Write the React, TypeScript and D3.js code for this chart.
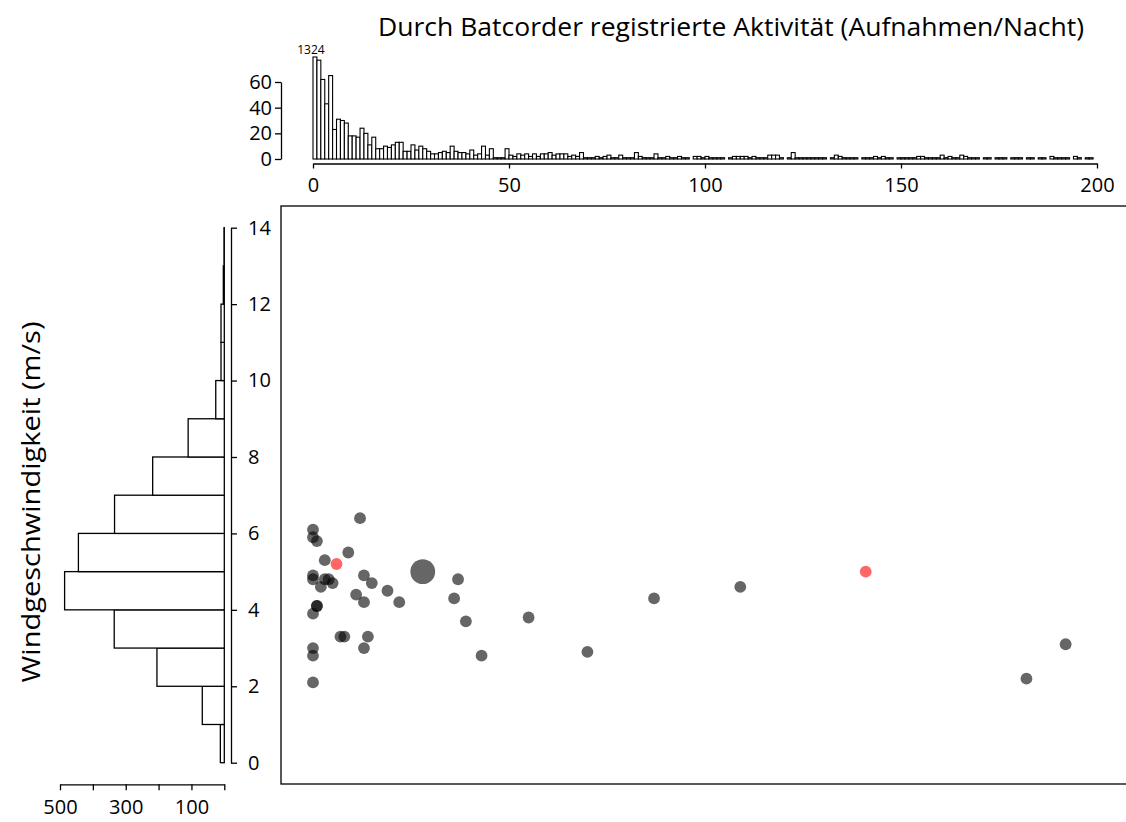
import * as d3 from "d3";
import { useEffect, useRef } from "react";

// recordings per night, 1-wide bins from 0 to 200
const countsA = [1324, 77, 62, 43, 65, 23, 31, 30, 28, 18, 18, 17, 24, 20, 11, 17, 8, 8, 10, 9, 11, 13, 13, 6, 6, 11, 7, 10, 8, 6, 4, 4, 5, 6, 5, 10, 6, 5, 5, 4, 7, 3, 4, 10, 3, 8, 1, 1, 1, 8];
const countsB = [3, 2, 4, 3, 4, 2, 4, 2, 4, 4, 5, 3, 4, 4, 4, 2, 3, 2, 5, 1, 1, 1, 2, 1, 2, 3, 1, 1, 3, 1, 1, 1, 5, 2, 1, 1, 1, 4, 1, 1, 2, 1, 1, 2, 1, 1, 0, 2, 2, 1];
const countsC = [2, 1, 1, 1, 1, 0, 1, 2, 2, 2, 2, 1, 2, 1, 1, 1, 3, 3, 3, 1, 0, 1, 5, 1, 1, 1, 1, 1, 1, 1, 1, 0, 1, 3, 2, 1, 1, 1, 1, 0, 1, 1, 1, 2, 1, 2, 1, 1, 0, 1];
const countsD = [1, 1, 1, 1, 2, 2, 1, 1, 1, 1, 3, 1, 2, 1, 1, 3, 2, 1, 1, 1, 0, 1, 1, 0, 1, 1, 1, 0, 1, 1, 1, 0, 1, 1, 0, 1, 1, 0, 2, 1, 1, 1, 1, 0, 2, 1, 0, 1, 1, 0];
const activityCounts = [...countsA, ...countsB, ...countsC, ...countsD];

// wind speed histogram, 1 m/s bins
const windBinStart = [0, 1, 2, 3, 4, 5, 6, 7, 8, 9, 10, 11, 12, 13];
const windCounts = [12, 67, 205, 335, 486, 444, 334, 218, 110, 26, 10, 10, 3, 1];

// scatter: activity vs wind speed
const nightActivity = [12, 0, 0, 1, 9, 3, 0, 0, 3, 4, 5, 2, 13, 15, 19, 37, 11, 13, 22, 36, 39, 1, 1, 0, 7, 8, 14, 13, 0, 0, 43, 0, 55, 70, 87, 109, 182, 192, 28, 6, 141];
const nightWind = [6.4, 6.1, 5.9, 5.8, 5.5, 5.3, 4.9, 4.8, 4.8, 4.8, 4.7, 4.6, 4.9, 4.7, 4.5, 4.8, 4.4, 4.2, 4.2, 4.3, 3.7, 4.1, 4.1, 3.9, 3.3, 3.3, 3.3, 3.0, 3.0, 2.8, 2.8, 2.1, 3.8, 2.9, 4.3, 4.6, 2.2, 3.1, 5.0, 5.2, 5.0];
const nightSize = [1, 1, 1, 1, 1, 1, 1, 1, 1, 1, 1, 1, 1, 1, 1, 1, 1, 1, 1, 1, 1, 1, 1, 1, 1, 1, 1, 1, 1, 1, 1, 1, 1, 1, 1, 1, 1, 1, 2.1, 1, 1];
const nightMarked = [0, 0, 0, 0, 0, 0, 0, 0, 0, 0, 0, 0, 0, 0, 0, 0, 0, 0, 0, 0, 0, 0, 0, 0, 0, 0, 0, 0, 0, 0, 0, 0, 0, 0, 0, 0, 0, 0, 0, 1, 1];

const topXTicks = [0, 50, 100, 150, 200];
const topYTicks = [0, 20, 40, 60];
const windTicks = [0, 2, 4, 6, 8, 10, 12, 14];
const leftTicks = [0, 100, 200, 300, 400, 500];
const leftLabels = [100, 300, 500];

const FONT = "'Open Sans', sans-serif";

const App = () => {
  const ref = useRef<SVGSVGElement>(null);

  useEffect(() => {
    document.body.style.margin = "0";
    if (ref && ref.current) ref.current.innerHTML = "";

    const width = 1126;
    const height = 822;

    const svg = d3.select(ref.current)
      .attr("width", width)
      .attr("height", height)
      .style("display", "block")
      .style("font-family", FONT);

    // scales
    const x = d3.scaleLinear().domain([0, 200]).range([313, 1097]);
    const yTop = d3.scaleLinear().domain([0, 60]).range([159, 82]);
    const yWind = d3.scaleLinear().domain([0, 14]).range([762.7, 227.7]);
    const xLeft = d3.scaleLinear().domain([0, 500]).range([224.3, 60]);
    const topClip = yTop.invert(57);

    const styleAxis = (g, size = 20) => {
      g.select(".domain").attr("stroke", "#000").attr("stroke-width", 1.3);
      g.selectAll(".tick line").attr("stroke", "#000").attr("stroke-width", 1.3);
      g.selectAll(".tick text")
        .attr("fill", "#000")
        .style("font-family", FONT)
        .style("font-size", `${size}px`);
    };

    // title
    svg.append("text")
      .attr("x", 731)
      .attr("y", 36)
      .attr("text-anchor", "middle")
      .attr("font-size", 25)
      .attr("textLength", 706)
      .attr("lengthAdjust", "spacingAndGlyphs")
      .text("Durch Batcorder registrierte Aktivität (Aufnahmen/Nacht)");

    // top histogram
    svg.append("g")
      .selectAll("rect")
      .data(activityCounts)
      .join("rect")
        .attr("x", (d, i) => x(i))
        .attr("y", d => yTop(Math.min(d, topClip)))
        .attr("width", x(1) - x(0))
        .attr("height", d => yTop(0) - yTop(Math.min(d, topClip)))
        .attr("fill", "#fff")
        .attr("stroke", "#000")
        .attr("stroke-width", 1.1);

    svg.append("text")
      .attr("x", x(0.5) - 4)
      .attr("y", 54)
      .attr("text-anchor", "middle")
      .attr("font-size", 12)
      .text(activityCounts[0]);

    svg.append("g")
      .attr("transform", "translate(281,0)")
      .call(d3.axisLeft(yTop).tickValues(topYTicks).tickSize(6).tickSizeOuter(0).tickPadding(3))
      .call(g => styleAxis(g));

    svg.append("g")
      .attr("transform", "translate(0,163.5)")
      .call(d3.axisBottom(x).tickValues(topXTicks).tickSize(5).tickSizeOuter(0).tickPadding(9))
      .call(g => styleAxis(g));

    // left histogram of wind speed
    svg.append("g")
      .selectAll("rect")
      .data(windCounts)
      .join("rect")
        .attr("x", d => xLeft(d))
        .attr("y", (d, i) => yWind(windBinStart[i] + 1))
        .attr("width", d => xLeft(0) - xLeft(d))
        .attr("height", (d, i) => yWind(windBinStart[i]) - yWind(windBinStart[i] + 1))
        .attr("fill", "#fff")
        .attr("stroke", "#000")
        .attr("stroke-width", 1.3);

    svg.append("g")
      .attr("transform", "translate(231,0)")
      .call(d3.axisRight(yWind).tickValues(windTicks).tickSize(6).tickSizeOuter(0).tickPadding(11))
      .call(g => styleAxis(g));

    svg.append("g")
      .attr("transform", "translate(0,784.3)")
      .call(d3.axisBottom(xLeft).tickValues(leftTicks).tickSize(6).tickSizeOuter(0).tickPadding(10)
        .tickFormat(d => leftLabels.includes(+d) ? String(d) : ""))
      .call(g => styleAxis(g));

    svg.append("text")
      .attr("transform", "translate(40,502) rotate(-90)")
      .attr("text-anchor", "middle")
      .attr("font-size", 26)
      .attr("textLength", 361)
      .attr("lengthAdjust", "spacingAndGlyphs")
      .text("Windgeschwindigkeit (m/s)");

    // scatter panel box
    svg.append("rect")
      .attr("x", 281)
      .attr("y", 206)
      .attr("width", 860)
      .attr("height", 578)
      .attr("fill", "none")
      .attr("stroke", "#000")
      .attr("stroke-width", 1.3);

    svg.append("g")
      .selectAll("circle")
      .data(nightActivity)
      .join("circle")
        .attr("cx", d => x(d))
        .attr("cy", (d, i) => yWind(nightWind[i]))
        .attr("r", (d, i) => 5.9 * nightSize[i])
        .attr("fill", (d, i) => nightMarked[i] ? "#ff0000" : "#000")
        .attr("fill-opacity", 0.6);
  }, []);

  return <svg ref={ref} />;
};

export default App;
